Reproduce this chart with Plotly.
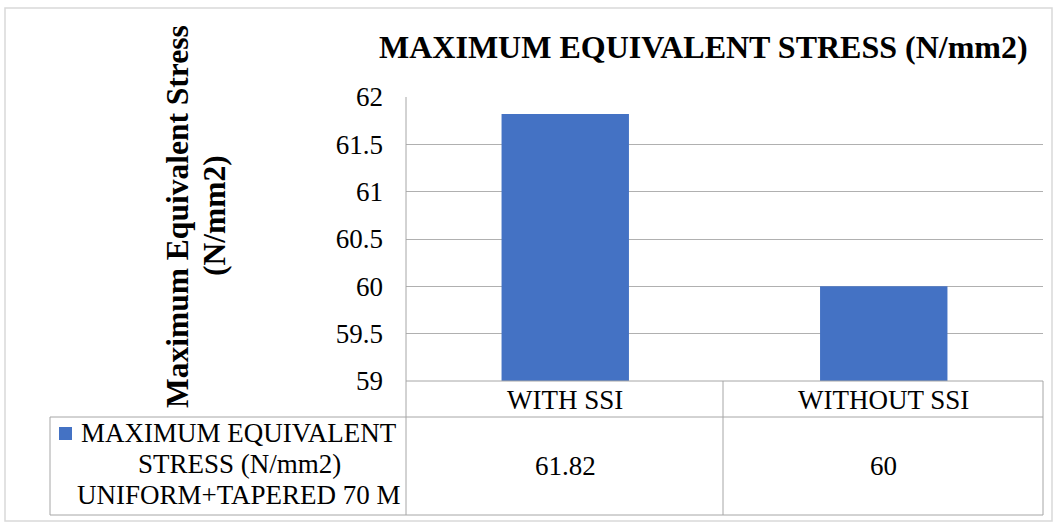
import plotly.graph_objects as go

categories = ["WITH SSI", "WITHOUT SSI"]
values = [61.82, 60]
value_labels = ["61.82", "60"]
series_lines = ["MAXIMUM EQUIVALENT", "STRESS (N/mm2)", "UNIFORM+TAPERED 70 M"]
title_text = "MAXIMUM EQUIVALENT STRESS (N/mm2)"
ytitle_lines = ["Maximum Equivalent Stress", "(N/mm2)"]
y_range = [59, 62]

W, H = 1057, 527
L, R, T, B = 406, 1043, 97, 381  # plot area pixel bounds

def px(x):
    return (x - L) / (R - L)

def py(y):
    return (B - y) / (B - T)

SERIF = "Liberation Serif, Times New Roman, serif"
BAR = "#4472C4"
LINE = "#a6a6a6"

fig = go.Figure()
fig.add_trace(go.Bar(x=categories, y=values, marker=dict(color=BAR, line=dict(width=0)),
                     name=" ".join(series_lines), showlegend=False))

shapes = []
def hline(y, x0, x1, color=LINE, w=1):
    shapes.append(dict(type="line", xref="paper", yref="paper", x0=px(x0), x1=px(x1),
                       y0=py(y), y1=py(y), line=dict(color=color, width=w), layer="above"))
def vline(x, y0, y1, color=LINE, w=1):
    shapes.append(dict(type="line", xref="paper", yref="paper", x0=px(x), x1=px(x),
                       y0=py(y0), y1=py(y1), line=dict(color=color, width=w), layer="above"))

# outer border
shapes.append(dict(type="rect", xref="paper", yref="paper", x0=px(5), x1=px(1052),
                   y0=py(8), y1=py(521), line=dict(color="#d9d9d9", width=1.5)))
# table
hline(381, 406, 1043)
hline(417, 50, 1043)
hline(515, 50, 1043)
vline(50, 417, 515)
vline(406, 97, 515)
vline(723, 381, 515)
vline(1043, 381, 515)
# legend key
shapes.append(dict(type="rect", xref="paper", yref="paper", x0=px(59), x1=px(72),
                   y0=py(427), y1=py(440), fillcolor=BAR, line=dict(width=0)))

annotations = []
annotations.append(dict(text=title_text, xref="paper", yref="paper", x=px(703), y=py(47),
                        showarrow=False, xanchor="center", yanchor="middle",
                        font=dict(family=SERIF, size=32, color="black", weight="bold")))
for txt, xc in zip(ytitle_lines, [177, 214]):
    annotations.append(dict(text=txt, xref="paper", yref="paper", x=px(xc), y=py(216),
                            showarrow=False, textangle=-90, xanchor="center", yanchor="middle",
                            font=dict(family=SERIF, size=31.5, color="black", weight="bold")))
for c, lab in zip(categories, value_labels):
    annotations.append(dict(text=c, xref="x", yref="paper", x=c, y=py(400), showarrow=False,
                            xanchor="center", yanchor="middle",
                            font=dict(family=SERIF, size=27, color="black")))
    annotations.append(dict(text=lab, xref="x", yref="paper", x=c, y=py(466), showarrow=False,
                            xanchor="center", yanchor="middle",
                            font=dict(family=SERIF, size=27, color="black")))
for txt, yc in zip(series_lines, [433, 464, 495]):
    xc = 239 if txt != "MAXIMUM EQUIVALENT" else 239
    annotations.append(dict(text=txt, xref="paper", yref="paper", x=px(xc), y=py(yc),
                            showarrow=False, xanchor="center", yanchor="middle",
                            font=dict(family=SERIF, size=27, color="black")))

fig.update_layout(
    width=W, height=H,
    margin=dict(l=L, r=W - R, t=T, b=H - B, pad=0),
    paper_bgcolor="white", plot_bgcolor="white",
    bargap=0.6,
    shapes=shapes, annotations=annotations,
    xaxis=dict(showticklabels=False, showgrid=False, zeroline=False, showline=False, fixedrange=True),
    yaxis=dict(range=y_range, dtick=0.5, tick0=59, showgrid=True, gridcolor="#b0b0b0", gridwidth=1,
               zeroline=False, showline=False, ticks="", ticklabelstandoff=22,
               tickfont=dict(family=SERIF, size=27, color="black"), fixedrange=True),
)

fig.write_html("out.html", config={"displayModeBar": False},
               post_script="document.body.style.margin='0';document.body.style.overflow='hidden';")
